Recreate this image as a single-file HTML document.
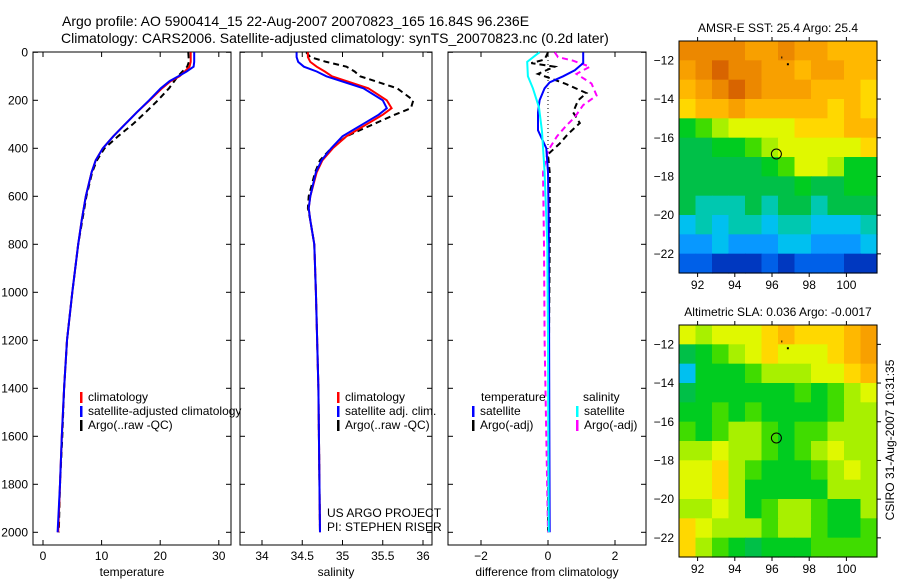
<!DOCTYPE html>
<html><head><meta charset="utf-8"><style>
body{margin:0;background:#fff}
svg{display:block;font-family:"Liberation Sans",sans-serif}
text{font-size:12px;fill:#000}
</style></head><body>
<svg id="fig" width="900" height="580" viewBox="0 0 900 580" xmlns="http://www.w3.org/2000/svg">
<text x="62" y="26" style="font-size:14px">Argo profile: AO 5900414_15 22-Aug-2007 20070823_165 16.84S 96.236E</text>
<text x="61" y="43" style="font-size:14px">Climatology: CARS2006. Satellite-adjusted climatology: synTS_20070823.nc (0.2d later)</text>
<g id="g"></g>
</svg>
<script>
// ---- data ----
const tDepth=[0,40,60,80,100,120,150,200,250,300,350,400,450,500,600,700,800,1000,1200,1400,1600,1800,2000];
const tClim=[25.2,25.2,25.0,24.2,23.3,21.8,20.3,18.2,16.0,14.0,12.0,10.2,9.0,8.3,7.3,6.6,6.0,5.0,4.1,3.6,3.2,2.9,2.6];
const tSat=[25.8,25.8,25.7,24.5,23.1,21.6,20.1,18.1,16.0,14.0,12.0,10.2,9.0,8.3,7.3,6.6,6.0,5.0,4.1,3.6,3.2,2.9,2.5];
const tArgo=[24.8,24.9,24.6,23.8,23.0,22.4,21.5,19.6,17.5,15.3,12.8,10.5,9.2,8.4,7.4,6.7,6.0,5.0,4.1,3.6,3.3,2.9,2.7];
const sDepth=[0,20,40,60,80,100,150,200,233,260,300,350,400,450,500,600,650,700,800,1000,1400,2000];
const sClim=[34.57,34.57,34.6,34.68,34.78,34.87,35.32,35.55,35.61,35.5,35.3,35.05,34.88,34.75,34.68,34.6,34.58,34.6,34.65,34.67,34.7,34.72];
const sSat=[34.43,34.43,34.45,34.52,34.68,34.8,35.26,35.5,35.55,35.45,35.25,35.0,34.86,34.74,34.67,34.6,34.58,34.6,34.65,34.67,34.7,34.72];
const sArgo=[34.55,34.6,34.8,35.05,35.15,35.22,35.68,35.88,35.85,35.65,35.38,35.05,34.86,34.72,34.66,34.58,34.57,34.6,34.65,34.67,34.7,34.72];
const dTSatDepth=[0,45,75,100,125,150,200,250,325,400,500,700,1000,1500,2000];
const dTSat=[1.05,1.05,0.8,0.45,0.05,-0.1,-0.25,-0.3,-0.3,-0.05,0,0.02,0.03,0.04,0.05];
const dSSatDepth=[0,10,40,100,150,230,330,500,800,1200,2000];
const dSSat=[-0.25,-0.35,-0.62,-0.6,-0.45,-0.27,-0.18,-0.1,-0.02,0,0.02];
const dTArgoDepth=[0,30,45,60,90,130,170,200,250,295,340,380,425,500,800,1200,2000];
const dTArgo=[0,-0.1,-0.5,0.2,-0.3,0.5,1.15,0.9,0.75,0.95,0.6,0.35,0,0.05,0.05,0.03,0];
const dSArgoDepth=[0,20,35,60,90,130,180,220,270,305,350,410,500,800,1200,1600,2000];
const dSArgo=[0.2,0.3,0.75,1.25,0.85,1.3,1.45,1.05,0.8,0.55,0.27,0,-0.15,-0.12,-0.1,-0.05,0];
const depthTicks=[0,200,400,600,800,1000,1200,1400,1600,1800,2000];
const tempTicks=[0,10,20,30];
const salTicks=[34,34.5,35,35.5,36];
const diffTicks=[-2,0,2];
const lonTicks=[92,94,96,98,100];
const latTicks=[-12,-14,-16,-18,-20,-22];
const palette=["#0038c0","#0060e8","#0898ff","#00c0f0","#00c8b0","#00c048","#00cc20","#40dc00","#a8f000","#e0f800","#ffd800","#ffb800","#f8a000","#ec8800","#d86400"];
const sstGrid=[
[13,13,13,13,12,12,13,12,12,11,11,11],
[12,13,14,13,13,12,12,11,12,12,11,11],
[11,12,13,14,13,12,12,12,11,11,11,10],
[10,11,11,12,11,11,11,11,11,10,11,10],
[6,7,8,9,9,9,9,10,10,10,11,11],
[5,5,6,6,7,8,9,9,9,9,9,10],
[5,5,5,5,5,6,7,9,9,8,6,6],
[5,5,5,5,5,5,5,6,5,5,6,6],
[5,4,4,4,5,4,5,5,4,5,5,5],
[3,4,3,4,4,3,4,4,3,3,3,4],
[2,2,3,2,2,2,3,3,2,2,2,3],
[1,1,0,0,0,1,0,1,1,1,0,0]];
const slaGrid=[
[9,8,9,9,9,10,11,10,10,10,11,12],
[5,6,7,8,9,10,9,9,9,10,11,12],
[3,6,6,6,7,8,8,8,9,9,10,11],
[5,6,6,6,6,6,6,7,6,7,8,9],
[6,6,7,6,7,6,6,6,6,7,8,8],
[7,6,7,8,8,7,6,7,7,8,8,8],
[8,8,9,8,8,7,6,7,8,9,8,8],
[9,9,10,8,7,6,6,6,7,8,9,8],
[9,9,10,8,6,6,6,6,6,8,8,8],
[8,8,9,8,6,7,8,8,7,6,6,8],
[10,9,8,8,8,7,8,8,7,6,6,7],
[10,8,7,6,5,6,6,6,7,7,7,7]];
const floatLon=96.236, floatLat=-16.84;

// ---- helpers ----
const NS="http://www.w3.org/2000/svg", G=document.getElementById('g');
function el(tag,attrs,txt){const e=document.createElementNS(NS,tag);for(const k in attrs)e.setAttribute(k,attrs[k]);if(txt!==undefined)e.textContent=txt;G.appendChild(e);return e;}
const yD=d=>52.3+d*0.24;
const TOP=52, BOT=545;
function panel(x0,x1,name,xs,ticks,xlabel,showY,fmt){
  const r=el('rect',{x:x0,y:TOP,width:x1-x0,height:BOT-TOP,fill:'none',stroke:'#000','stroke-width':1});
  
  
  depthTicks.forEach(d=>{const y=yD(d);
    el('line',{x1:x0,x2:x0+5,y1:y,y2:y,stroke:'#000'});el('line',{x1:x1-5,x2:x1,y1:y,y2:y,stroke:'#000'});
    if(showY){const t=el('text',{x:28,y:y+4,'text-anchor':'end'},String(d));
      
      }
  });
  ticks.forEach(v=>{const x=xs(v);
    el('line',{x1:x,x2:x,y1:TOP,y2:TOP+5,stroke:'#000'});el('line',{x1:x,x2:x,y1:BOT-5,y2:BOT,stroke:'#000'});
    const t=el('text',{x:x,y:560,'text-anchor':'middle'},fmt?fmt(v):String(v));
    
    
  });
  const t=el('text',{x:(x0+x1)/2,y:576,'text-anchor':'middle'},xlabel);
  
  
}
function series(xs,depths,vals,color,name,dash,w){
  const pts=depths.map((d,i)=>xs(vals[i]).toFixed(1)+','+yD(d).toFixed(1)).join(' ');
  const a={points:pts,fill:'none',stroke:color,'stroke-width':w||2};
  if(dash)a['stroke-dasharray']=dash;
  const p=el('polyline',a);
  
  
}
function legend(x,y,color,label,name){
  el('rect',{x:x,y:y-9,width:2.5,height:11,fill:color});
  const t=el('text',{x:x+8,y:y},label);
  
  
}

// ---- temperature panel ----
const xT=v=>43+v*5.86;
panel(33,231,'temperature-panel',xT,tempTicks,'temperature',true);
series(xT,tDepth,tArgo,'#000','temp-argo-line','6,4');
series(xT,tDepth,tClim,'#f00','temp-climatology-line');
series(xT,tDepth,tSat,'#00f','temp-satellite-line');
legend(80,401,'#f00','climatology','legend-climatology');
legend(80,415,'#00f','satellite-adjusted climatology','legend-satellite');
legend(80,429,'#000','Argo(..raw -QC)','legend-argo');

// ---- salinity panel ----
const xS=v=>262+(v-34)*80.5;
panel(240,432,'salinity-panel',xS,salTicks,'salinity',false);
series(xS,sDepth,sArgo,'#000','sal-argo-line','6,4');
series(xS,sDepth,sClim,'#f00','sal-climatology-line');
series(xS,sDepth,sSat,'#00f','sal-satellite-line');
legend(337,401,'#f00','climatology','legend-sal-climatology');
legend(337,415,'#00f','satellite adj. clim.','legend-sal-satellite');
legend(337,429,'#000','Argo(..raw -QC)','legend-sal-argo');
el('text',{x:327,y:517},'US ARGO PROJECT');
el('text',{x:327,y:531},'PI: STEPHEN RISER');

// ---- difference panel ----
const xDf=v=>548+v*33.5;
panel(448,646,'difference-panel',xDf,diffTicks,'difference from climatology',false,v=>v<0?'\u2212'+(-v):String(v));
el('line',{x1:xDf(0),x2:xDf(0),y1:TOP,y2:175,stroke:'#000','stroke-dasharray':'1,3'});
series(xDf,dTArgoDepth,dTArgo,'#000','diff-temp-argo-line','6,4');
series(xDf,dSArgoDepth,dSArgo,'#f0f','diff-sal-argo-line','6,4');
series(xDf,dTSatDepth,dTSat,'#00f','diff-temp-satellite-line');
series(xDf,dSSatDepth,dSSat,'#0ff','diff-sal-satellite-line');
el('text',{x:481,y:401},'temperature');
el('text',{x:583,y:401},'salinity');
legend(472,415,'#00f','satellite','legend-diff-temp-satellite');
legend(472,429,'#000','Argo(-adj)','legend-diff-temp-argo');
legend(576,415,'#0ff','satellite','legend-diff-sal-satellite');
legend(576,429,'#f0f','Argo(-adj)','legend-diff-sal-argo');

// ---- maps ----
function map(y0,grid,name,title){
  const x0=679,x1=877,y1=y0+232;
  const lon=v=>x0+(v-91)*18.6, lat=v=>y0+(-11-v)*19.35;
  const rows=grid.length, cols=grid[0].length, cw=(x1-x0)/cols, ch=(y1-y0)/rows;
  grid.forEach((row,r)=>row.forEach((v,c)=>{
    const cell=el('rect',{x:(x0+c*cw).toFixed(2),y:(y0+r*ch).toFixed(2),width:(cw+0.6).toFixed(2),height:(ch+0.6).toFixed(2),fill:palette[v]});
    
    
  }));
  const fr=el('rect',{x:x0,y:y0,width:x1-x0,height:y1-y0,fill:'none',stroke:'#000'});
  
  
  lonTicks.forEach(v=>{const x=lon(v);
    el('line',{x1:x,x2:x,y1:y0-4,y2:y0,stroke:'#000'});el('line',{x1:x,x2:x,y1:y1,y2:y1+4,stroke:'#000'});
    el('text',{x:x,y:y1+16,'text-anchor':'middle'},String(v));});
  latTicks.forEach(v=>{const y=lat(v);
    el('line',{x1:x1,x2:x1+4,y1:y,y2:y,stroke:'#000'});
    el('text',{x:674,y:y+4,'text-anchor':'end'},'\u2212'+(-v));});
  const c=el('circle',{cx:lon(floatLon),cy:lat(floatLat),r:5,fill:'none',stroke:'#000','stroke-width':1});
  
  
  el('rect',{x:lon(96.5),y:lat(-11.8),width:1,height:2,fill:'#000'});
  el('rect',{x:lon(96.8),y:lat(-12.15),width:2,height:2,fill:'#000'});
  const t=el('text',{x:(x0+x1)/2,y:y0-9,'text-anchor':'middle'},title);
  
  
}
map(41,sstGrid,'sst-map','AMSR-E SST: 25.4 Argo: 25.4');
map(325,slaGrid,'sla-map','Altimetric SLA: 0.036 Argo: -0.0017');
const side=el('text',{x:894,y:440,'text-anchor':'middle',transform:'rotate(-90 894 440)'},'CSIRO 31-Aug-2007 10:31:35');


</script>
</body></html>
